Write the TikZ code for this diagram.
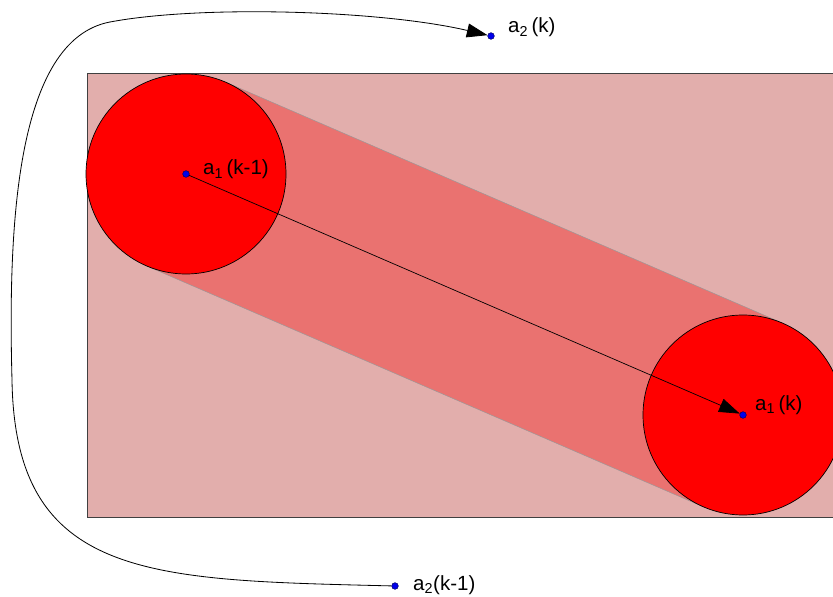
\documentclass[tikz,border=0pt]{standalone}
\usepackage{fontspec}
\setmainfont{Liberation Sans}
\usetikzlibrary{arrows.meta}
\definecolor{bgpink}{RGB}{226,174,172}
\definecolor{bandred}{RGB}{234,114,112}
\definecolor{ptblue}{RGB}{0,0,235}
\tikzset{
  pt/.style={circle, fill=ptblue, draw=ptblue!40!black, line width=0.4pt, minimum size=0.2cm, inner sep=0pt},
  bigcirc/.style={circle, fill=red, draw=black, line width=0.6pt, minimum size=6cm, inner sep=0pt},
  lbl/.style={anchor=base west, inner sep=0pt, font=\fontsize{17.5}{20}\selectfont},
  arr/.style={line width=0.6pt, -{Triangle[length=0.62cm, width=0.42cm]}},
}
\begin{document}
\begin{tikzpicture}[x=0.03cm, y=-0.03cm]
\useasboundingbox (0,0) rectangle (833,597);
\begin{scope}
\clip (0,0) rectangle (833,597);
% background rectangle
\fill[bgpink] (87,73) rectangle (845,517);
\draw[black!75, line width=0.8pt] (845,73) -- (87,73) -- (87,517) -- (845,517);
% band between circles
\fill[bandred, draw=black!40, line width=0.4pt] (225.7,82.2) -- (782.7,323.2) -- (703.3,506.8) -- (146.3,265.8) -- cycle;
% circles
\node[bigcirc] (c1) at (186,174) {};
\node[bigcirc] (c2) at (743,415) {};
\end{scope}
% points
\node[pt] (a1m) at (186,174) {};
\node[pt] (a1k) at (743,415) {};
\node[pt] (a2k) at (491,36) {};
\node[pt] (a2m) at (395,586) {};
% arrows
\draw[arr] (a1m) -- (a1k);
\draw[line width=0.7pt] (a2m) .. controls (150,580) and (15,580) .. (12,380)
  coordinate (p1);
\draw[line width=0.7pt] (p1) .. controls (8,230) and (15,40) .. (110,22) coordinate (p2);
\draw[arr, line width=0.7pt] (p2) .. controls (200,5) and (380,10) .. (a2k);
% labels
\node[lbl] (l1) at (203,175) {a\textsubscript{1}\,(k-1)};
\node[lbl] (l2) at (755,410) {a\textsubscript{1}\,(k)};
\node[lbl] (l3) at (508,33) {a\textsubscript{2}\,(k)};
\node[lbl] (l4) at (413,590) {a\textsubscript{2}(k-1)};
\end{tikzpicture}
\end{document}
